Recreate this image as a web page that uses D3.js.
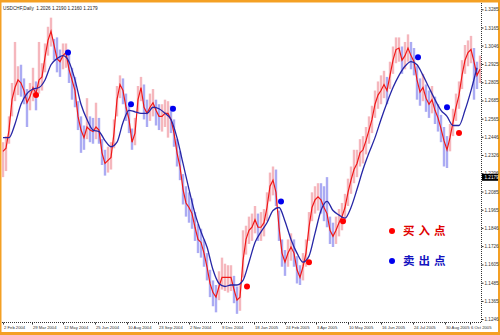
<!DOCTYPE html>
<html>
<head>
<meta charset="utf-8">
<title>USDCHF Daily</title>
<script src="https://d3js.org/d3.v7.min.js"></script>
<style>
body { margin: 0; background: #fff; }
svg text { font-family: "Liberation Sans", Arial, sans-serif; }
</style>
</head>
<body>
<script>

// one sample every 3 daily bars (bar number = 3 * i)
var closes = [
  1.235,1.237,1.249,1.269,1.277,1.282,1.280,1.275,1.267,1.271,
  1.277,1.273,1.282,1.284,1.297,1.308,1.314,1.305,1.296,1.294,
  1.298,1.300,1.289,1.282,1.275,1.258,1.249,1.244,1.251,1.249,
  1.248,1.251,1.249,1.234,1.227,1.229,1.231,1.247,1.269,1.279,
  1.275,1.264,1.256,1.241,1.247,1.269,1.277,1.264,1.260,1.264,
  1.267,1.262,1.258,1.258,1.260,1.260,1.256,1.247,1.234,1.225,
  1.210,1.201,1.198,1.194,1.185,1.177,1.175,1.168,1.159,1.148,
  1.142,1.139,1.146,1.152,1.152,1.152,1.152,1.144,1.137,1.139,
  1.163,1.177,1.183,1.185,1.190,1.185,1.185,1.188,1.198,1.212,
  1.216,1.208,1.185,1.168,1.162,1.168,1.172,1.168,1.157,1.152,
  1.159,1.168,1.185,1.198,1.203,1.205,1.203,1.198,1.194,1.183,
  1.179,1.183,1.188,1.192,1.198,1.208,1.216,1.223,1.227,1.234,
  1.236,1.242,1.249,1.256,1.266,1.272,1.275,1.279,1.275,1.285,
  1.295,1.302,1.303,1.295,1.298,1.303,1.298,1.294,1.282,1.274,
  1.277,1.270,1.266,1.269,1.262,1.257,1.250,1.242,1.236,1.244,
  1.254,1.264,1.272,1.285,1.295,1.300,1.302,1.294,1.285,1.289
];
var highs = [
  1.241,1.245,1.258,1.280,1.307,1.291,1.292,1.283,1.276,1.280,
  1.290,1.281,1.307,1.293,1.306,1.317,1.323,1.309,1.310,1.302,
  1.306,1.306,1.299,1.290,1.284,1.268,1.258,1.252,1.270,1.258,
  1.257,1.267,1.257,1.243,1.236,1.238,1.241,1.256,1.278,1.285,
  1.283,1.273,1.265,1.250,1.257,1.278,1.284,1.279,1.269,1.273,
  1.276,1.269,1.266,1.266,1.269,1.268,1.265,1.256,1.243,1.235,
  1.220,1.212,1.208,1.204,1.195,1.187,1.184,1.177,1.168,1.157,
  1.150,1.147,1.156,1.165,1.161,1.160,1.160,1.153,1.146,1.148,
  1.183,1.186,1.192,1.194,1.199,1.194,1.195,1.197,1.208,1.221,
  1.225,1.223,1.196,1.177,1.170,1.177,1.181,1.177,1.166,1.160,
  1.168,1.177,1.195,1.208,1.212,1.214,1.214,1.212,1.218,1.192,
  1.188,1.192,1.197,1.201,1.207,1.217,1.225,1.236,1.236,1.243,
  1.245,1.251,1.258,1.265,1.275,1.281,1.285,1.288,1.284,1.294,
  1.304,1.310,1.310,1.304,1.307,1.312,1.307,1.303,1.291,1.283,
  1.286,1.279,1.275,1.278,1.271,1.266,1.259,1.251,1.245,1.253,
  1.263,1.273,1.281,1.295,1.305,1.308,1.311,1.303,1.294,1.298
];
var lows = [
  1.218,1.222,1.240,1.258,1.268,1.272,1.271,1.266,1.251,1.262,
  1.268,1.262,1.273,1.275,1.287,1.298,1.304,1.295,1.287,1.284,
  1.289,1.290,1.280,1.269,1.264,1.249,1.234,1.236,1.243,1.241,
  1.240,1.243,1.240,1.226,1.219,1.221,1.223,1.237,1.258,1.270,
  1.266,1.255,1.247,1.236,1.239,1.260,1.268,1.256,1.251,1.255,
  1.258,1.252,1.249,1.248,1.251,1.244,1.247,1.238,1.225,1.216,
  1.200,1.192,1.188,1.184,1.176,1.168,1.165,1.159,1.150,1.139,
  1.133,1.129,1.137,1.144,1.143,1.142,1.143,1.135,1.128,1.130,
  1.152,1.167,1.174,1.176,1.181,1.176,1.176,1.179,1.189,1.202,
  1.206,1.199,1.176,1.159,1.153,1.159,1.163,1.159,1.148,1.147,
  1.150,1.159,1.176,1.189,1.194,1.196,1.194,1.189,1.185,1.174,
  1.172,1.174,1.179,1.183,1.189,1.199,1.207,1.214,1.218,1.225,
  1.227,1.233,1.240,1.247,1.257,1.263,1.266,1.270,1.266,1.276,
  1.286,1.293,1.294,1.286,1.289,1.294,1.289,1.285,1.269,1.265,
  1.268,1.261,1.257,1.260,1.253,1.248,1.241,1.225,1.224,1.235,
  1.245,1.255,1.263,1.276,1.286,1.291,1.293,1.269,1.276,1.280
];
// slow moving average, one value every 6 bars (bar number = 6 * k)
var slowMa = [
  1.244,1.244,1.253,1.266,1.273,1.276,1.277,1.282,1.292,1.296,
  1.298,1.294,1.282,1.266,1.256,1.249,1.248,1.242,1.238,1.241,
  1.254,1.262,1.261,1.260,1.260,1.264,1.263,1.260,1.256,1.244,
  1.227,1.210,1.194,1.182,1.172,1.157,1.148,1.146,1.147,1.147,
  1.150,1.162,1.175,1.182,1.188,1.196,1.198,1.189,1.177,1.168,
  1.162,1.166,1.181,1.196,1.202,1.196,1.193,1.191,1.198,1.210,
  1.223,1.234,1.244,1.256,1.267,1.277,1.285,1.291,1.294,1.292,
  1.285,1.277,1.269,1.262,1.258,1.252,1.252,1.262,1.275,1.290
];

// buy / sell signals (bar number, price)
var buyBars = [33, 244, 306, 340, 456];
var buyPrices = [1.272, 1.146, 1.162, 1.189, 1.247];
var sellBars = [65, 128, 170, 278, 415, 444];
var sellPrices = [1.300, 1.266, 1.263, 1.202, 1.297, 1.264];

// axis labels
var dateLabels = ["2 Feb 2004", "29 Mar 2004", "12 May 2004", "25 Jun 2004", "10 Aug 2004",
  "23 Sep 2004", "2 Nov 2004", "9 Dec 2004", "18 Jan 2005", "24 Feb 2005", "3 Apr 2005",
  "10 May 2005", "16 Jun 2005", "24 Jul 2005", "30 Aug 2005", "6 Oct 2005"];
var dateBars = [0, 29, 60, 92, 124, 155, 186, 218, 251, 282, 313, 345, 378, 410, 442, 467];
var priceTicks = [1.3285, 1.3165, 1.3046, 1.2925, 1.2805, 1.2685, 1.2565, 1.2446, 1.2326,
  1.2206, 1.2085, 1.1965, 1.1846, 1.1726, 1.1605, 1.1485, 1.1365, 1.1246];
var lastPrice = 1.2179;
var title = "USDCHF,Daily  1.2026 1.2190 1.2160 1.2179";
var legendNames = ["买入点", "卖出点"];

var width = 500, height = 335;

var svg = d3.select("body").append("svg")
  .attr("width", width)
  .attr("height", height);

// orange frame
svg.append("rect").attr("width", width).attr("height", height).attr("fill", "#f4a024");
svg.append("rect").attr("x", 1.5).attr("y", 2.5).attr("width", 496.5).attr("height", 329.5).attr("fill", "#fff");

var x = d3.scaleLinear().domain([0, 477]).range([3, 480]);
var y = d3.scaleLinear().domain([1.1246, 1.3285]).range([319, 9.3]);

svg.append("clipPath").attr("id", "plot")
  .append("rect").attr("x", 2).attr("y", 3).attr("width", 479).attr("height", 319);

var plot = svg.append("g").attr("clip-path", "url(#plot)");

// price bars
plot.selectAll(".bar").data(closes).enter().append("line")
  .attr("class", "bar")
  .attr("x1", function(d, i) { return x(i * 3); })
  .attr("x2", function(d, i) { return x(i * 3); })
  .attr("y1", function(d, i) { return y(highs[i]); })
  .attr("y2", function(d, i) { return y(lows[i]); })
  .attr("stroke", function(d, i) { return (i > 0 && d < closes[i - 1]) ? "#8f8ff0" : "#f2a0a8"; })
  .attr("stroke-width", 2.4)
  .attr("opacity", 0.75);

// fast line
var fastLine = d3.line()
  .x(function(d, i) { return x(i * 3); })
  .y(function(d) { return y(d); });
plot.append("path").datum(closes)
  .attr("d", fastLine)
  .attr("fill", "none")
  .attr("stroke", "#f01818")
  .attr("stroke-width", 1.2);

// slow moving average
var maLine = d3.line()
  .curve(d3.curveMonotoneX)
  .x(function(d, i) { return x(i * 6); })
  .y(function(d) { return y(d); });
plot.append("path").datum(slowMa)
  .attr("d", maLine)
  .attr("fill", "none")
  .attr("stroke", "#2626a6")
  .attr("stroke-width", 1.3);

// signal dots
plot.selectAll(".buy").data(buyBars).enter().append("circle")
  .attr("cx", function(d) { return x(d); })
  .attr("cy", function(d, i) { return y(buyPrices[i]); })
  .attr("r", 3)
  .attr("fill", "#ff0000");
plot.selectAll(".sell").data(sellBars).enter().append("circle")
  .attr("cx", function(d) { return x(d); })
  .attr("cy", function(d, i) { return y(sellPrices[i]); })
  .attr("r", 3)
  .attr("fill", "#0000ee");

// right price axis
var yAxis = svg.append("g")
  .attr("transform", "translate(481.5,0)")
  .call(d3.axisRight(y).tickValues(priceTicks).tickSize(2).tickSizeOuter(0)
    .tickFormat(function(d) { return d.toFixed(4); }));
yAxis.select(".domain").attr("d", "M0,3V322.5").attr("stroke", "#333").attr("stroke-dasharray", "1,1");
yAxis.selectAll(".tick line").attr("stroke", "#333");
yAxis.selectAll(".tick text").attr("x", 3).attr("font-size", 4.6).attr("fill", "#333");

// bottom date axis
var xAxis = svg.append("g")
  .attr("transform", "translate(0,322.5)")
  .call(d3.axisBottom(x).tickValues(dateBars).tickSize(2).tickSizeOuter(0)
    .tickFormat(function(d, i) { return dateLabels[i]; }));
xAxis.select(".domain").attr("d", "M2,0H481.5").attr("stroke", "#333").attr("stroke-dasharray", "1,1");
xAxis.selectAll(".tick line").attr("stroke", "#333");
xAxis.selectAll(".tick text")
  .attr("text-anchor", "start")
  .attr("x", 0.5).attr("y", 3.5)
  .attr("font-size", 4.2).attr("fill", "#333");

// current price box
svg.append("rect")
  .attr("x", 482).attr("y", y(lastPrice) - 3.5)
  .attr("width", 16).attr("height", 7)
  .attr("fill", "#000");
svg.append("text")
  .attr("x", 484.5).attr("y", y(lastPrice) + 1.6)
  .attr("font-size", 4.6).attr("fill", "#fff")
  .text(lastPrice.toFixed(4));

// title
svg.append("text")
  .attr("x", 3).attr("y", 9.5)
  .attr("font-size", 4.7).attr("fill", "#222")
  .attr("xml:space", "preserve")
  .text(title);

// legend
var legendColors = ["#ff0000", "#0000ee"];
var legendText = ["#e00000", "#1414c0"];
var legend = svg.selectAll(".legend").data(legendNames).enter().append("g")
  .attr("transform", function(d, i) { return "translate(392," + (231 + i * 30) + ")"; });
legend.append("circle").attr("r", 3).attr("fill", function(d, i) { return legendColors[i]; });
legend.append("text")
  .attr("x", 11).attr("y", 4)
  .attr("font-size", 11.5)
  .attr("font-weight", "bold")
  .attr("letter-spacing", 4)
  .style("font-family", "'Noto Sans CJK SC', sans-serif")
  .attr("fill", function(d, i) { return legendText[i]; })
  .text(function(d) { return d; });

</script>
</body>
</html>
